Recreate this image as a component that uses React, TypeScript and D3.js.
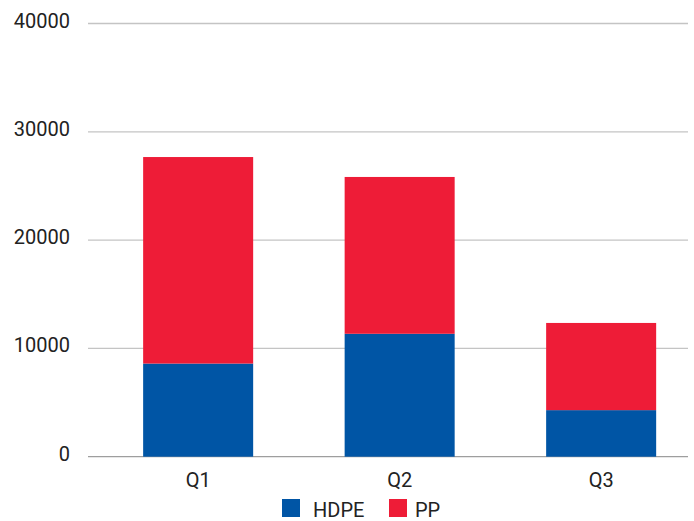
import React from "react";
import * as d3 from "d3";

const categories = ["Q1", "Q2", "Q3"];
const hdpe = [8600, 11350, 4300];
const pp = [19070, 14480, 8050];
const seriesNames = ["HDPE", "PP"];
const yTicks = [0, 10000, 20000, 30000, 40000];

const colors = ["#0055A5", "#EE1C37"];
const W = 694;
const H = 521;
const font = "Roboto, sans-serif";

export default function App() {
  const x = d3
    .scaleBand<string>()
    .domain(categories)
    .range([97.4, 701.9])
    .paddingInner(0.454)
    .paddingOuter(0.227);
  const y = d3.scaleLinear().domain([0, 40000]).range([456.7, 23.5]);

  const rows = categories.map((c, i) => ({ cat: c, HDPE: hdpe[i], PP: pp[i] }));
  const stacked = d3.stack<any>().keys(seriesNames)(rows);

  return (
    <svg
      width={W}
      height={H}
      style={{ position: "absolute", left: 0, top: 0, background: "#fff" }}
      fontFamily={font}
    >
      {yTicks.map((t) => (
        <g key={t}>
          <line
            x1={88}
            x2={688}
            y1={y(t)}
            y2={y(t)}
            stroke={t === 0 ? "#9e9e9e" : "#c4c4c4"}
            strokeWidth={1.3}
          />
          <text x={70} y={y(t) + 4} textAnchor="end" fontSize={20} fill="#222">
            {t}
          </text>
        </g>
      ))}
      {stacked.map((s, si) => (
        <g key={s.key} fill={colors[si]}>
          {s.map((d, i) => (
            <rect
              key={i}
              x={x(categories[i])}
              width={x.bandwidth()}
              y={y(d[1])}
              height={y(d[0]) - y(d[1])}
            />
          ))}
        </g>
      ))}
      {categories.map((c) => (
        <text
          key={c}
          x={(x(c) as number) + x.bandwidth() / 2}
          y={487}
          textAnchor="middle"
          fontSize={20}
          fill="#222"
        >
          {c}
        </text>
      ))}
      <g>
        <rect x={282} y={499} width={18} height={18} fill={colors[0]} />
        <text x={313} y={517} fontSize={20} fill="#222">
          {seriesNames[0]}
        </text>
        <rect x={389} y={499} width={18} height={18} fill={colors[1]} />
        <text x={415} y={517} fontSize={20} fill="#222">
          {seriesNames[1]}
        </text>
      </g>
    </svg>
  );
}
